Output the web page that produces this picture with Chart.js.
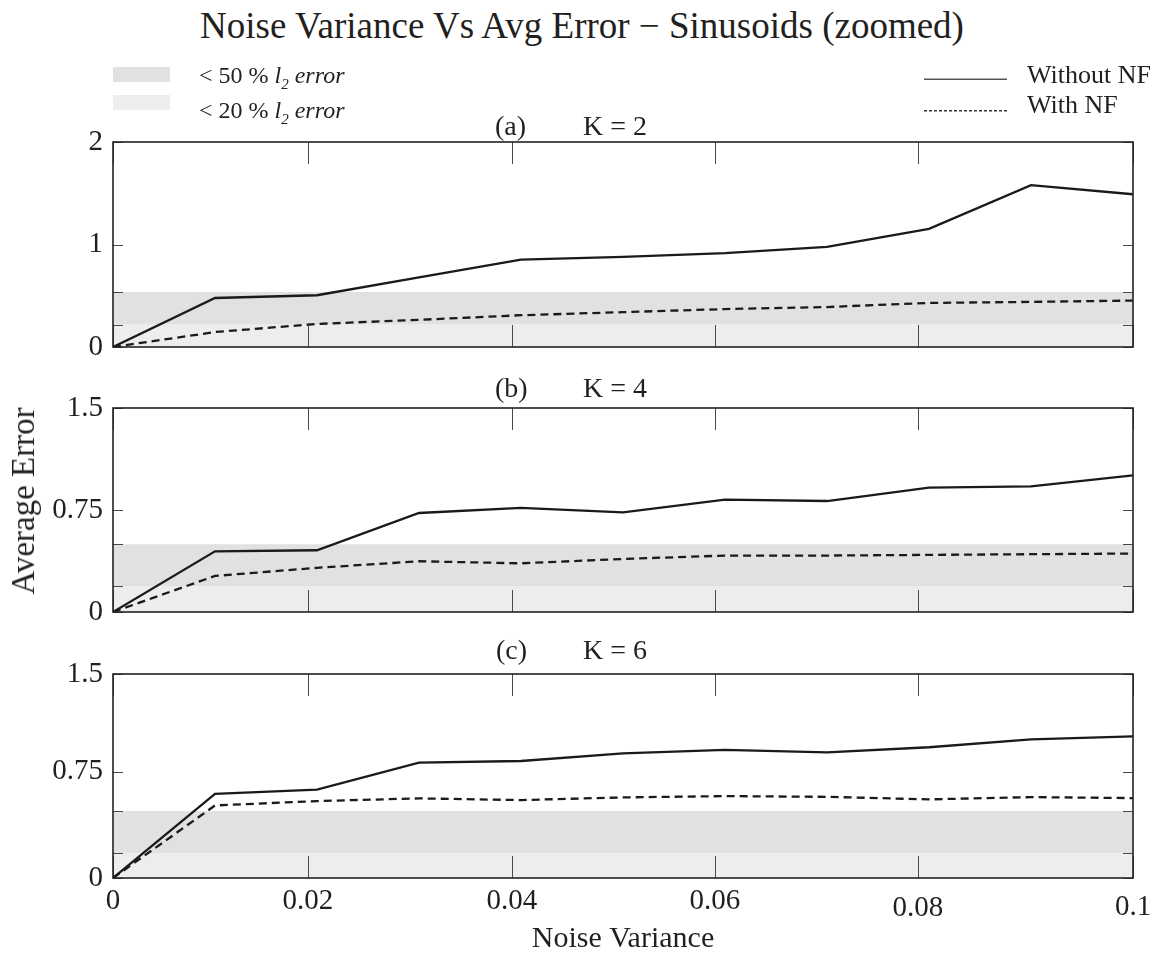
<!DOCTYPE html>
<html><head><meta charset="utf-8">
<script src="https://cdn.jsdelivr.net/npm/chart.js@4.4.1/dist/chart.umd.min.js"></script>
<style>
html,body{margin:0;padding:0;background:#fff;}
#wrap{position:relative;width:1164px;height:968px;overflow:hidden;font-family:'Liberation Serif','Times New Roman',serif;color:#231f20;}
canvas{position:absolute;left:0;}
.t{position:absolute;white-space:nowrap;}
.sw{position:absolute;left:113px;width:57px;height:15px;}
</style></head><body>
<div id="wrap">
<canvas id="ca" width="1164" height="265" style="top:112px"></canvas>
<canvas id="cb" width="1164" height="264" style="top:378px"></canvas>
<canvas id="cc" width="1164" height="324" style="top:644px"></canvas>

<div class="t" style="left:0;width:1164px;text-align:center;top:5px;font-size:37px;line-height:42px;">Noise Variance Vs Avg Error − Sinusoids (zoomed)</div>

<div class="t" style="left:22.5px;top:501px;font-size:33px;line-height:36px;transform:translate(-50%,-50%) rotate(-90deg);">Average Error</div>

<div class="sw" style="top:67px;background:#e0e1e3"></div>
<div class="sw" style="top:95px;background:#ededed"></div>
<div class="t" style="left:199px;top:60px;font-size:24px;line-height:30px;">&lt; 50 % <i>l</i><sub style="font-size:15px;vertical-align:-6px;font-style:italic">2</sub> <i>error</i></div>
<div class="t" style="left:199px;top:95px;font-size:24px;line-height:30px;">&lt; 20 % <i>l</i><sub style="font-size:15px;vertical-align:-6px;font-style:italic">2</sub> <i>error</i></div>

<svg style="position:absolute;left:920px;top:70px" width="95" height="50">
<line x1="4" y1="9.3" x2="87" y2="9.3" stroke="#555" stroke-width="1.4"/>
<line x1="4" y1="40.7" x2="87" y2="40.7" stroke="#333" stroke-width="1.6" stroke-dasharray="3,2"/>
</svg>
<div class="t" style="left:1027px;top:60px;font-size:26px;line-height:30px;">Without NF</div>
<div class="t" style="left:1027px;top:90px;font-size:26px;line-height:30px;">With NF</div>

<div class="t" style="left:495px;top:111px;font-size:28px;line-height:30px;">(a)</div>
<div class="t" style="left:583px;top:111px;font-size:28px;line-height:30px;">K = 2</div>
<div class="t" style="left:495px;top:373px;font-size:28px;line-height:30px;">(b)</div>
<div class="t" style="left:583px;top:373px;font-size:28px;line-height:30px;">K = 4</div>
<div class="t" style="left:496px;top:635px;font-size:28px;line-height:30px;">(c)</div>
<div class="t" style="left:583px;top:635px;font-size:28px;line-height:30px;">K = 6</div>
</div>
<script>
// ---- data ----
const noiseVariance = [0, 0.01, 0.02, 0.03, 0.04, 0.05, 0.06, 0.07, 0.08, 0.09, 0.1];

const withoutNF_K2 = [0, 0.478, 0.505, 0.68, 0.853, 0.88, 0.915, 0.977, 1.152, 1.579, 1.49];
const withNF_K2    = [0, 0.146, 0.225, 0.265, 0.31, 0.34, 0.37, 0.39, 0.43, 0.44, 0.453];

const withoutNF_K4 = [0, 0.446, 0.454, 0.728, 0.765, 0.733, 0.826, 0.816, 0.915, 0.924, 1.005];
const withNF_K4    = [0, 0.265, 0.325, 0.373, 0.358, 0.39, 0.415, 0.415, 0.42, 0.425, 0.43];

const withoutNF_K6 = [0, 0.594, 0.624, 0.814, 0.826, 0.88, 0.904, 0.887, 0.923, 0.979, 1.0];
const withNF_K6    = [0, 0.512, 0.543, 0.562, 0.55, 0.569, 0.578, 0.573, 0.555, 0.571, 0.564];

// error bands [<20% upper edge, <50% upper edge]
const bandK2 = [0.219, 0.537];
const bandK4 = [0.191, 0.498];
const bandK6 = [0.177, 0.472];

const xTickValues = [0, 0.0191, 0.0391, 0.059, 0.0789, 0.1];
const xTickLabels = ['0', '0.02', '0.04', '0.06', '0.08', '0.1'];

const yTickValuesK2 = [0, 1, 2];
const yTickLabelsK2 = ['0', '1', '2'];
const yTickValuesK4 = [0, 0.75, 1.5];
const yTickLabelsK4 = ['0', '0.75', '1.5'];
const yTickValuesK6 = [0, 0.75, 1.44];
const yTickLabelsK6 = ['0', '0.75', '1.5'];

// ---- style ----
const FONT = "'Liberation Serif', 'Times New Roman', serif";
const TEXT = '#231f20';
const xTickLabelLineHeights = [1.2, 1.2, 1.2, 1.2, 1.65, 1.6];

const bandPlugin = band => ({
  id: 'bands',
  beforeDatasetsDraw(chart) {
    const {ctx, chartArea: a, scales: {y}} = chart;
    const y0 = y.getPixelForValue(0), y1 = y.getPixelForValue(band[0]), y2 = y.getPixelForValue(band[1]);
    ctx.save();
    ctx.fillStyle = '#ededed';
    ctx.fillRect(a.left, y1, a.right - a.left, y0 - y1);
    ctx.fillStyle = '#e0e1e3';
    ctx.fillRect(a.left, y2, a.right - a.left, y1 - y2);
    ctx.restore();
  }
});

const framePlugin = yMarks => ({
  id: 'frame',
  afterDatasetsDraw(chart) {
    const {ctx, chartArea: a, scales: {x, y}} = chart;
    ctx.save();
    ctx.strokeStyle = '#4a4a4a';
    ctx.lineWidth = 1;
    ctx.beginPath();
    xTickValues.forEach(v => {
      const px = Math.round(x.getPixelForValue(v)) + 0.5;
      ctx.moveTo(px, a.bottom); ctx.lineTo(px, a.bottom - 22);
      ctx.moveTo(px, a.top); ctx.lineTo(px, a.top + 22);
    });
    yMarks.forEach(v => {
      const py = Math.round(y.getPixelForValue(v)) + 0.5;
      ctx.moveTo(a.left, py); ctx.lineTo(a.left + 10, py);
      ctx.moveTo(a.right, py); ctx.lineTo(a.right - 10, py);
    });
    ctx.stroke();
    ctx.strokeStyle = '#222';
    ctx.lineWidth = 1.6;
    ctx.strokeRect(a.left, a.top, a.right - a.left, a.bottom - a.top);
    ctx.restore();
  }
});

function panel(id, o) {
  const pts = arr => noiseVariance.map((x, i) => ({x: x, y: arr[i]}));
  return new Chart(document.getElementById(id), {
    type: 'line',
    data: {
      datasets: [
        {label: 'Without NF', data: pts(o.without), borderColor: '#1a1a1a', borderWidth: 2.3,
         pointRadius: 0, tension: 0, fill: false},
        {label: 'With NF', data: pts(o.withNF), borderColor: '#1a1a1a', borderWidth: 2.3,
         borderDash: [8, 5], pointRadius: 0, tension: 0, fill: false}
      ]
    },
    options: {
      responsive: false, animation: false, devicePixelRatio: 1,
      layout: {padding: {left: 0, right: 31, top: 30, bottom: o.padBottom}},
      plugins: {legend: {display: false}, tooltip: {enabled: false}, title: {display: false}},
      scales: {
        x: {
          type: 'linear', min: 0, max: 0.1, bounds: 'data', display: o.showX,
          afterBuildTicks: s => { s.ticks = xTickValues.map(v => ({value: v})); },
          afterFit: s => { if (o.showX) s.height = o.xHeight; },
          grid: {display: false, drawTicks: false, tickLength: 0}, border: {display: false},
          ticks: {
            autoSkip: false, maxRotation: 0, minRotation: 0, padding: 6, color: TEXT,
            font: c => ({family: FONT, size: 29, lineHeight: xTickLabelLineHeights[c.index] || 1.2}),
            callback: (v, i) => xTickLabels[i]
          },
          title: {display: o.showX, text: 'Noise Variance', color: TEXT,
                  font: {family: FONT, size: 30, lineHeight: 1.2}, padding: {top: 0, bottom: 11}}
        },
        y: {
          type: 'linear', min: 0, max: o.yMax, bounds: 'data',
          afterBuildTicks: s => { s.ticks = o.yTicks.map(v => ({value: v})); },
          afterFit: s => { s.width = 113; },
          grid: {display: false, drawTicks: false, tickLength: 0}, border: {display: false},
          ticks: {padding: 10, color: TEXT, font: {family: FONT, size: 29}, callback: (v, i) => o.yLabels[i]}
        }
      }
    },
    plugins: [bandPlugin(o.band), framePlugin([...o.band, ...o.yTicks])]
  });
}

panel('ca', {without: withoutNF_K2, withNF: withNF_K2, band: bandK2, yMax: 2,
             yTicks: yTickValuesK2, yLabels: yTickLabelsK2, showX: false, padBottom: 30});
panel('cb', {without: withoutNF_K4, withNF: withNF_K4, band: bandK4, yMax: 1.5,
             yTicks: yTickValuesK4, yLabels: yTickLabelsK4, showX: false, padBottom: 30});
panel('cc', {without: withoutNF_K6, withNF: withNF_K6, band: bandK6, yMax: 1.44,
             yTicks: yTickValuesK6, yLabels: yTickLabelsK6, showX: true, xHeight: 90, padBottom: 0});
</script>
</body></html>
